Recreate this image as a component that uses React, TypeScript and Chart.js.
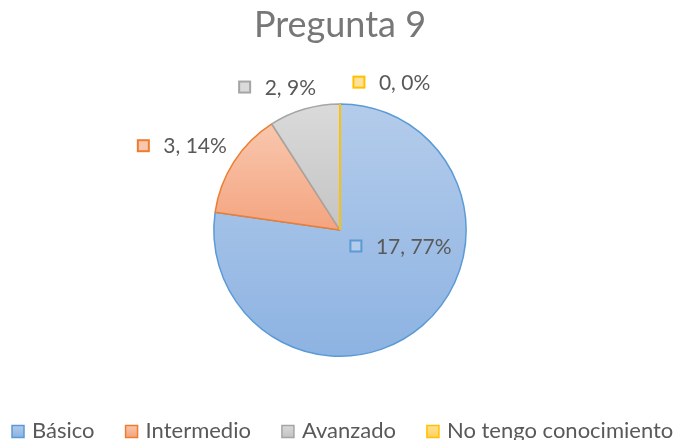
import React, { useEffect, useRef } from 'react';
import { Chart, ArcElement, PieController, Title } from 'chart.js';

Chart.register(ArcElement, PieController, Title);

const chartTitle = 'Pregunta 9';
const categories = ['Básico', 'Intermedio', 'Avanzado', 'No tengo conocimiento'];
const counts = [17, 3, 2, 0];
const borderColors = ['#5b9bd5', '#ed7d31', '#a5a5a5', '#ffc000'];
const fillTop = ['#b4cceb', '#f8c7ae', '#dadada', '#ffe29a'];
const fillBottom = ['#8db3e2', '#f4a47f', '#c4c4c4', '#ffd05a'];

const FONT = 'Lato, "Open Sans", sans-serif';
const TEXT_COLOR = '#595959';

// label placement relative to pie centre, in units of the radius (marker square centre)
const labelPlacement: [number, number][] = [
  [0.126, 0.126],
  [-1.559, -0.669],
  [-0.756, -1.134],
  [0.15, -1.173],
];

const total = counts.reduce((a, b) => a + b, 0);
const percents = counts.map((v) => Math.round((v / total) * 100));

function arcVerticalExtent(x: number, y: number, r: number, a0: number, a1: number) {
  const ys = [y, y + r * Math.sin(a0), y + r * Math.sin(a1)];
  const TAU = Math.PI * 2;
  for (let k = -2; k <= 2; k++) {
    const down = Math.PI / 2 + k * TAU;
    const up = -Math.PI / 2 + k * TAU;
    if (down >= a0 && down <= a1) ys.push(y + r);
    if (up >= a0 && up <= a1) ys.push(y - r);
  }
  return [Math.min(...ys), Math.max(...ys)];
}

const gradientPlugin = {
  id: 'sliceGradient',
  beforeDatasetsDraw(chart: any) {
    const ctx = chart.ctx;
    const meta = chart.getDatasetMeta(0);
    meta.data.forEach((arc: any, i: number) => {
      const { x, y, startAngle, endAngle, outerRadius } = arc.getProps(
        ['x', 'y', 'startAngle', 'endAngle', 'outerRadius'],
        true
      );
      const [y0, y1] = arcVerticalExtent(x, y, outerRadius, startAngle, endAngle);
      const g = ctx.createLinearGradient(0, y0, 0, Math.max(y1, y0 + 1));
      g.addColorStop(0, fillTop[i]);
      g.addColorStop(1, fillBottom[i]);
      arc.options = { ...arc.options, backgroundColor: g };
    });
  },
  afterDatasetsDraw(chart: any) {
    const ctx = chart.ctx;
    const meta = chart.getDatasetMeta(0);
    meta.data.forEach((arc: any, i: number) => {
      const { x, y, startAngle, endAngle, outerRadius } = arc.getProps(
        ['x', 'y', 'startAngle', 'endAngle', 'outerRadius'],
        true
      );
      if (Math.abs(endAngle - startAngle) < 1e-9) {
        ctx.save();
        ctx.strokeStyle = borderColors[i];
        ctx.lineWidth = 2;
        ctx.beginPath();
        ctx.moveTo(x, y);
        ctx.lineTo(x + outerRadius * Math.cos(startAngle), y + outerRadius * Math.sin(startAngle));
        ctx.stroke();
        ctx.restore();
      }
    });
  },
};

const labelPlugin = {
  id: 'sliceLabels',
  afterDraw(chart: any) {
    const ctx = chart.ctx;
    const meta = chart.getDatasetMeta(0);
    ctx.save();
    meta.data.forEach((arc: any, i: number) => {
      const { x, y, outerRadius } = arc.getProps(['x', 'y', 'outerRadius'], true);
      const cx = x + labelPlacement[i][0] * outerRadius;
      const cy = y + labelPlacement[i][1] * outerRadius;
      const s = 11;
      ctx.fillStyle = fillTop[i];
      ctx.fillRect(cx - s / 2, cy - s / 2, s, s);
      ctx.strokeStyle = borderColors[i];
      ctx.lineWidth = 2;
      ctx.strokeRect(cx - s / 2, cy - s / 2, s, s);
      ctx.fillStyle = TEXT_COLOR;
      ctx.font = `21px ${FONT}`;
      ctx.textAlign = 'left';
      ctx.textBaseline = 'middle';
      ctx.fillText(`${counts[i]}, ${percents[i]}%`, cx + 20, cy + 1);
    });
    ctx.restore();
  },
};

const legendPlugin = {
  id: 'bottomLegend',
  afterDraw(chart: any) {
    const ctx = chart.ctx;
    ctx.save();
    ctx.font = `22px ${FONT}`;
    ctx.textAlign = 'left';
    ctx.textBaseline = 'middle';
    let x = 12;
    const y = 431;
    const s = 12;
    categories.forEach((label, i) => {
      const g = ctx.createLinearGradient(0, y - s / 2, 0, y + s / 2);
      g.addColorStop(0, fillTop[i]);
      g.addColorStop(1, fillBottom[i]);
      ctx.fillStyle = g;
      ctx.fillRect(x, y + 0.5 - s / 2, s, s);
      ctx.strokeStyle = borderColors[i];
      ctx.lineWidth = 1.5;
      ctx.strokeRect(x, y + 0.5 - s / 2, s, s);
      ctx.fillStyle = TEXT_COLOR;
      ctx.fillText(label, x + 20, y);
      x += 20 + ctx.measureText(label).width + 31;
    });
    ctx.restore();
  },
};

export default function App() {
  const canvasRef = useRef<HTMLCanvasElement | null>(null);

  useEffect(() => {
    if (!canvasRef.current) return;
    const chart = new Chart(canvasRef.current, {
      type: 'pie',
      data: {
        labels: categories,
        datasets: [
          {
            data: counts,
            backgroundColor: fillBottom,
            borderColor: borderColors,
            borderWidth: 1.5,
          },
        ],
      },
      options: {
        responsive: false,
        animation: false,
        layout: { padding: { top: 0, bottom: 83, left: 0, right: 0 } },
        plugins: {
          legend: { display: false },
          tooltip: { enabled: false },
          title: {
            display: true,
            text: chartTitle,
            color: '#777777',
            font: { family: FONT, size: 36, weight: 'normal', lineHeight: 1.2 },
            padding: { top: 4, bottom: 56 },
          },
        },
      },
      plugins: [gradientPlugin, labelPlugin, legendPlugin],
    });
    return () => chart.destroy();
  }, []);

  return (
    <div style={{ position: 'absolute', left: 0, top: 0, width: 680, height: 440, background: '#fff' }}>
      <canvas ref={canvasRef} width={680} height={440} style={{ display: 'block' }} />
    </div>
  );
}
